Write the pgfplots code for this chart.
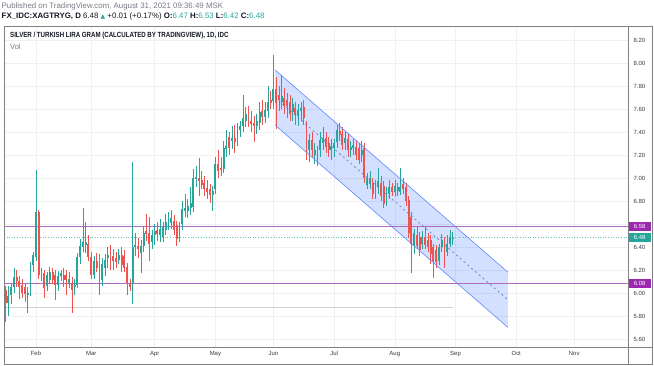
\documentclass[border=0pt]{standalone}
\usepackage{pgfplots}
\pgfplotsset{compat=1.18}
\usepackage{pgfplotstable}
\usepackage{graphicx}
\usepackage{fontspec}
\setmainfont{Liberation Sans}
\newfontfamily\symfont{DejaVu Sans}
\definecolor{up}{HTML}{26A69A}
\definecolor{down}{HTML}{EF5350}
\definecolor{purp}{HTML}{9C27B0}
\definecolor{purpline}{HTML}{B06CC4}
\definecolor{chan}{HTML}{2962FF}
\definecolor{txt}{HTML}{131722}
\definecolor{sub}{HTML}{787B86}

\pgfplotstableread{
i o h l c
-11 6.03 6.06 5.75 5.91
-10 5.91 6.06 5.80 5.97
-9 5.98 6.08 5.90 6.05
-8 6.05 6.22 6.00 6.14
-7 6.14 6.20 6.05 6.10
-6 6.10 6.15 5.95 6.05
-5 6.07 6.12 5.96 6.00
-4 6.05 6.08 5.92 5.99
-3 5.98 6.05 5.83 6.00
-2 6.00 6.27 5.97 6.24
-1 6.24 6.36 6.18 6.33
0 6.31 7.07 6.28 6.70
1 6.70 6.72 6.12 6.16
2 6.16 6.22 6.10 6.17
3 6.17 6.20 5.96 6.04
4 6.06 6.18 6.02 6.16
5 6.11 6.23 6.08 6.18
6 6.18 6.22 6.08 6.11
7 6.16 6.20 5.94 6.07
8 6.07 6.19 6.02 6.15
9 6.15 6.20 6.10 6.17
10 6.16 6.22 6.05 6.11
11 6.16 6.20 5.98 6.11
12 6.09 6.18 6.04 6.12
13 6.09 6.14 5.83 6.03
14 6.05 6.12 5.98 6.07
15 6.07 6.35 6.04 6.31
16 6.31 6.47 6.25 6.41
17 6.40 6.74 6.36 6.44
18 6.42 6.62 6.35 6.44
19 6.43 6.50 6.28 6.31
20 6.31 6.36 6.12 6.16
21 6.16 6.32 6.12 6.28
22 6.28 6.35 6.18 6.22
23 6.26 6.34 5.98 6.11
24 6.11 6.30 6.06 6.25
25 6.22 6.34 6.15 6.29
26 6.30 6.40 6.22 6.33
27 6.33 6.42 6.20 6.28
28 6.32 6.38 6.20 6.28
29 6.30 6.36 6.22 6.27
30 6.29 6.38 6.25 6.33
31 6.33 6.40 6.18 6.24
32 6.32 6.37 6.18 6.22
33 6.23 6.26 5.98 6.09
34 6.09 6.12 6.02 6.05
35 6.09 7.14 5.90 6.40
36 6.40 6.52 6.32 6.42
37 6.41 6.48 6.30 6.38
38 6.35 6.46 6.17 6.41
39 6.41 6.58 6.36 6.52
40 6.54 6.69 6.45 6.51
41 6.52 6.66 6.28 6.43
42 6.44 6.55 6.38 6.50
43 6.50 6.60 6.42 6.54
44 6.55 6.62 6.45 6.51
45 6.50 6.64 6.44 6.56
46 6.49 6.62 6.44 6.57
47 6.55 6.69 6.50 6.62
48 6.61 6.70 6.55 6.64
49 6.61 6.72 6.56 6.65
50 6.63 6.68 6.50 6.55
51 6.59 6.63 6.41 6.47
52 6.48 6.62 6.44 6.58
53 6.60 6.80 6.55 6.73
54 6.71 6.86 6.66 6.74
55 6.71 6.82 6.65 6.76
56 6.74 6.92 6.68 6.78
57 6.75 7.08 6.70 7.00
58 6.99 7.10 6.92 7.01
59 7.00 7.17 6.84 6.97
60 6.98 7.06 6.90 6.94
61 6.96 7.02 6.84 6.90
62 6.91 6.98 6.82 6.88
63 6.90 6.95 6.78 6.85
64 6.85 6.93 6.71 6.89
65 6.90 7.18 6.86 7.12
66 7.12 7.24 7.00 7.06
67 7.09 7.18 7.02 7.07
68 7.08 7.32 7.04 7.26
69 7.25 7.42 7.18 7.28
70 7.36 7.40 7.20 7.26
71 7.32 7.45 7.25 7.35
72 7.35 7.46 7.22 7.31
73 7.34 7.48 7.28 7.42
74 7.42 7.50 7.36 7.45
75 7.45 7.72 7.40 7.52
76 7.50 7.62 7.44 7.56
77 7.55 7.63 7.44 7.50
78 7.50 7.58 7.40 7.47
79 7.48 7.54 7.31 7.45
80 7.45 7.56 7.38 7.50
81 7.48 7.66 7.42 7.57
82 7.58 7.68 7.46 7.53
83 7.53 7.66 7.48 7.59
84 7.58 7.80 7.52 7.66
85 7.68 7.76 7.60 7.65
86 7.67 8.07 7.60 7.77
87 7.77 7.88 7.43 7.65
88 7.72 7.80 7.58 7.68
89 7.66 7.90 7.60 7.71
90 7.70 7.78 7.56 7.63
91 7.68 7.74 7.52 7.63
92 7.66 7.72 7.50 7.56
93 7.57 7.70 7.50 7.64
94 7.61 7.66 7.46 7.55
95 7.54 7.64 7.45 7.59
96 7.58 7.66 7.50 7.61
97 7.62 7.68 7.46 7.52
98 7.43 7.50 7.16 7.24
99 7.24 7.38 7.14 7.33
100 7.33 7.40 7.18 7.24
101 7.20 7.30 7.12 7.24
102 7.16 7.28 7.10 7.24
103 7.24 7.40 7.18 7.33
104 7.30 7.44 7.24 7.35
105 7.35 7.40 7.22 7.27
106 7.30 7.36 7.18 7.24
107 7.24 7.34 7.16 7.28
108 7.26 7.34 7.18 7.30
109 7.31 7.46 7.26 7.42
110 7.41 7.48 7.32 7.37
111 7.38 7.44 7.24 7.29
112 7.30 7.40 7.24 7.35
113 7.34 7.38 7.18 7.24
114 7.24 7.32 7.18 7.27
115 7.26 7.34 7.20 7.29
116 7.27 7.32 7.16 7.20
117 7.26 7.30 7.12 7.16
118 7.20 7.32 7.14 7.24
119 7.26 7.30 6.96 7.00
120 6.94 7.04 6.90 7.00
121 6.95 7.06 6.90 7.00
122 6.96 7.00 6.82 6.86
123 6.88 6.98 6.82 6.93
124 6.92 7.09 6.86 6.97
125 6.96 7.02 6.80 6.84
126 6.93 6.97 6.74 6.77
127 6.80 6.92 6.76 6.87
128 6.86 6.98 6.82 6.92
129 6.92 6.96 6.84 6.88
130 6.88 6.98 6.84 6.93
131 6.89 6.96 6.84 6.92
132 6.88 7.09 6.85 6.92
133 6.95 7.00 6.86 6.90
134 6.92 6.96 6.76 6.80
135 6.81 6.84 6.48 6.52
136 6.66 6.70 6.17 6.43
137 6.41 6.56 6.34 6.52
138 6.50 6.58 6.38 6.41
139 6.49 6.53 6.32 6.37
140 6.43 6.54 6.38 6.49
141 6.49 6.58 6.38 6.42
142 6.46 6.52 6.36 6.40
143 6.46 6.50 6.25 6.34
144 6.40 6.43 6.13 6.28
145 6.37 6.42 6.22 6.27
146 6.28 6.43 6.24 6.40
147 6.40 6.51 6.36 6.46
148 6.43 6.49 6.22 6.34
149 6.36 6.50 6.32 6.43
150 6.43 6.55 6.40 6.49
151 6.47 6.53 6.42 6.48
}\candles

\begin{document}
\begin{tikzpicture}
\useasboundingbox (0,0) rectangle (654bp,366bp);
\begin{axis}[
  at={(4bp,19bp)}, anchor=south west,
  scale only axis, width=624bp, height=321bp,
  xmin=-11.59, xmax=214.49, ymin=5.530, ymax=8.322,
  ytick={5.6,5.8,6.0,6.2,6.4,6.6,6.8,7.0,7.2,7.4,7.6,7.8,8.0,8.2},
  yticklabels={5.60,5.80,6.00,6.20,6.40,{},6.80,7.00,7.20,7.40,7.60,7.80,8.00,8.20},
  yticklabel pos=right,
  scaled y ticks=false,
  yticklabel style={font=\fontsize{6}{7}\selectfont, text=txt!85, anchor=west, xshift=2bp},
  xtick={0,20,43,65,86,108,130,152,174,195},
  xticklabels={Feb,Mar,Apr,May,Jun,Jul,Aug,Sep,Oct,Nov},
  xticklabel style={font=\fontsize{6}{7}\selectfont, text=txt!85, yshift=-1bp},
  major tick length=0pt,
  grid=major,
  major grid style={draw=black!6, line width=0.5bp},
  axis line style={draw=black!50, line width=0.6bp},
]
% channel fill
\addplot[draw=none, fill=chan, fill opacity=0.2, mark=none] coordinates {(86.6,7.94) (171,6.18) (171,5.70) (86.6,7.46)};
% horizontal levels (thin filled bands, about 1 px tall)
\addplot[draw=none, fill=purpline, mark=none] coordinates {(-11.59,6.0755) (214.49,6.0755) (214.49,6.0845) (-11.59,6.0845)};
\addplot[draw=none, fill=purpline, mark=none] coordinates {(-11.59,6.5755) (214.49,6.5755) (214.49,6.5845) (-11.59,6.5845)};
% reference lines
\addplot[color=black!18, line width=0.5bp, mark=none] coordinates {(-11.59,5.88) (151,5.88)};
\addplot[color=up!70!white, dotted, line width=0.6bp, mark=none] coordinates {(-11.59,6.48) (214.49,6.48)};
% wicks
\addplot[draw=none, mark=none, error bars/.cd, y dir=both, y explicit, error mark=none,
  error bar style={line width=0.6bp, draw=up, solid}]
  table[x=i, y expr={\thisrow{c}>=\thisrow{o} ? \thisrow{c} : nan},
        y error plus expr={\thisrow{h}-\thisrow{c}}, y error minus expr={\thisrow{c}-\thisrow{l}}] {\candles};
\addplot[draw=none, mark=none, error bars/.cd, y dir=both, y explicit, error mark=none,
  error bar style={line width=0.6bp, draw=down, solid}]
  table[x=i, y expr={\thisrow{c}<\thisrow{o} ? \thisrow{c} : nan},
        y error plus expr={\thisrow{h}-\thisrow{c}}, y error minus expr={\thisrow{c}-\thisrow{l}}] {\candles};
% bodies
\addplot[draw=none, mark=none, error bars/.cd, y dir=minus, y explicit, error mark=none,
  error bar style={line width=1.9bp, draw=up, solid}]
  table[x=i, y expr={\thisrow{c}>=\thisrow{o} ? \thisrow{c} : nan},
        y error minus expr={max(\thisrow{c}-\thisrow{o},0.01)}] {\candles};
\addplot[draw=none, mark=none, error bars/.cd, y dir=minus, y explicit, error mark=none,
  error bar style={line width=1.9bp, draw=down, solid}]
  table[x=i, y expr={\thisrow{c}<\thisrow{o} ? \thisrow{o} : nan},
        y error minus expr={max(\thisrow{o}-\thisrow{c},0.01)}] {\candles};
% channel lines
\addplot[color=chan!75, line width=0.6bp, mark=none] coordinates {(86.6,7.94) (171,6.18)};
\addplot[color=chan!75, line width=0.6bp, mark=none] coordinates {(86.6,7.46) (171,5.70)};
\addplot[color=chan!45!gray, line width=0.6bp, dash pattern=on 2bp off 3bp, mark=none] coordinates {(86.6,7.70) (171,5.94)};
\coordinate (b1) at (axis cs:214.49,6.58);
\coordinate (b2) at (axis cs:214.49,6.48);
\coordinate (b3) at (axis cs:214.49,6.08);
\end{axis}
% frame
\draw[black!50, line width=0.6bp] (4bp,2bp) rectangle (652bp,340bp);
\draw[black!50, line width=0.6bp] (628bp,2bp) -- (628bp,340bp);
\draw[black!50, line width=0.6bp] (4bp,19bp) -- (652bp,19bp);
% price boxes
\tikzset{pbox/.style={text=white, font=\fontsize{6}{7}\selectfont, anchor=west, inner xsep=2bp, inner ysep=1bp, minimum width=22bp, minimum height=9bp, xshift=0.5bp}}
\node[pbox, fill=purp] at (b1) {6.58};
\node[pbox, fill=up] at (b2) {6.48};
\node[pbox, fill=purp] at (b3) {6.08};
% header
\node[anchor=west, inner sep=0, text=sub, font=\fontsize{7.9}{9}\selectfont] at (1.5bp,360bp)
  {Published on TradingView.com, August 31, 2021 09:36:49 MSK};
\node[anchor=west, inner sep=0, text=txt, font=\fontsize{7.9}{9}\selectfont] at (1.5bp,349.5bp)
  {\textbf{FX\_IDC:XAGTRYG, D} 6.48 {\color{up}\symfont\fontsize{6}{7}\selectfont ▲} +0.01 (+0.17\%) \textbf{O:}\textcolor{up}{6.47} \textbf{H:}\textcolor{up}{6.53} \textbf{L:}\textcolor{up}{6.42} \textbf{C:}\textcolor{up}{6.48}};
% title
\node[anchor=west, inner sep=0, text=txt] at (10bp,330bp)
  {\scalebox{0.82}[1]{\bfseries\fontsize{7.5}{8}\selectfont SILVER / TURKISH LIRA GRAM (CALCULATED BY TRADINGVIEW), 1D, IDC}};
\node[anchor=west, inner sep=0, text=sub, font=\fontsize{7.5}{8}\selectfont] at (10bp,319bp) {Vol};
\end{tikzpicture}
\end{document}
